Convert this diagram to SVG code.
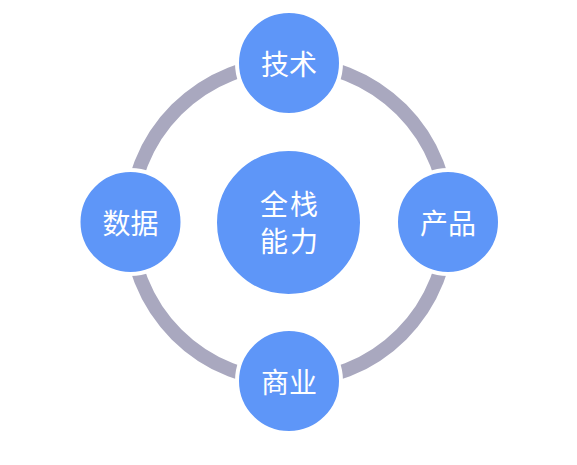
<svg xmlns="http://www.w3.org/2000/svg" width="577" height="465" viewBox="0 0 577 465">
<style>
.node{fill:#5e96f8;stroke:#ffffff;stroke-width:4}
.lbl{fill:#ffffff;font-family:"Noto Sans CJK SC","Noto Sans",sans-serif;font-size:28px;text-anchor:middle;dominant-baseline:central}
.ring{fill:none;stroke:#a9a8bf;stroke-width:14}
</style>
<rect width="577" height="465" fill="#ffffff"/>
<g id="connectors">
<circle class="ring" cx="289" cy="222" r="159"/>
</g>
<g id="center">
<circle class="node" cx="288.5" cy="222.5" r="73.5" stroke-width="0"/>
<text class="lbl" x="290" y="203" letter-spacing="2">全栈</text>
<text class="lbl" x="290" y="240" letter-spacing="2">能力</text>
</g>
<g id="tech">
<circle class="node" cx="289" cy="63" r="52"/>
<text class="lbl" x="289" y="63">技术</text>
</g>
<g id="product">
<circle class="node" cx="448" cy="222" r="52"/>
<text class="lbl" x="448" y="222">产品</text>
</g>
<g id="business">
<circle class="node" cx="289" cy="381" r="52"/>
<text class="lbl" x="289" y="381">商业</text>
</g>
<g id="data">
<circle class="node" cx="130.5" cy="222" r="52"/>
<text class="lbl" x="130.5" y="222">数据</text>
</g>
</svg>
